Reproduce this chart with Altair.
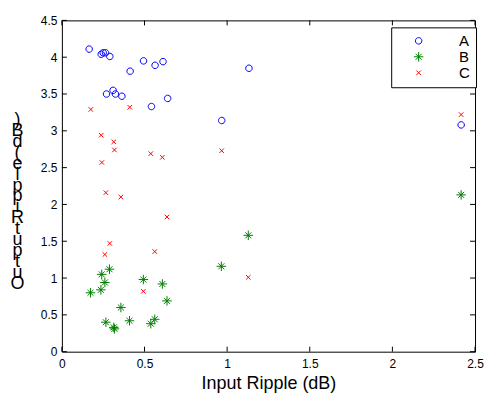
import altair as alt
import pandas as pd

# ---- data ----
series = ["A", "B", "C"]
colors = ["#0000ff", "#008000", "#ff0000"]

a_x = [0.165, 0.238, 0.250, 0.264, 0.290, 0.413, 0.494, 0.564, 0.612, 1.132,
       0.270, 0.310, 0.324, 0.363, 0.542, 0.640, 0.967, 2.416]
a_y = [4.11, 4.04, 4.06, 4.06, 4.01, 3.81, 3.95, 3.89, 3.94, 3.85,
       3.50, 3.55, 3.50, 3.47, 3.33, 3.44, 3.14, 3.08]

b_x = [1.128, 0.965, 0.288, 0.241, 0.260, 0.236, 0.173, 0.493, 0.608, 0.636,
       0.357, 0.409, 0.266, 0.314, 0.318, 0.538, 0.562, 2.416]
b_y = [1.58, 1.16, 1.12, 1.05, 0.94, 0.84, 0.80, 0.98, 0.92, 0.69,
       0.60, 0.42, 0.40, 0.33, 0.31, 0.38, 0.44, 2.13]

c_x = [0.175, 0.411, 0.238, 0.314, 0.318, 0.538, 0.608, 0.967, 0.242, 0.266,
       0.357, 0.636, 0.290, 0.260, 0.562, 0.493, 1.128, 2.416]
c_y = [3.29, 3.32, 2.94, 2.85, 2.74, 2.69, 2.64, 2.73, 2.57, 2.16,
       2.10, 1.83, 1.47, 1.32, 1.36, 0.82, 1.01, 3.22]

x_ticks = [0, 0.5, 1, 1.5, 2, 2.5]
y_ticks = [0, 0.5, 1, 1.5, 2, 2.5, 3, 3.5, 4, 4.5]

x_title = "Input Ripple (dB)"
y_title = "Output Ripple (dB)"

# ---- build tables ----
df = pd.concat([
    pd.DataFrame({"x": a_x, "y": a_y, "s": "A"}),
    pd.DataFrame({"x": b_x, "y": b_y, "s": "B"}),
    pd.DataFrame({"x": c_x, "y": c_y, "s": "C"}),
], ignore_index=True)
xt = pd.DataFrame({"v": x_ticks})
yt = pd.DataFrame({"v": y_ticks})

W, H = 414, 332
FONT = "Liberation Sans"
# symbol paths, all drawn at the same symbol size (unit box = 10 px)
circ = "M -0.65 0 A 0.65 0.65 0 1 0 0.65 0 A 0.65 0.65 0 1 0 -0.65 0 Z"
star = ("M -0.95 0 L 0.95 0 M 0 -0.95 L 0 0.95 "
        "M -0.6 -0.6 L 0.6 0.6 M -0.6 0.6 L 0.6 -0.6")
xmark = "M -0.45 -0.45 L 0.45 0.45 M -0.45 0.45 L 0.45 -0.45"
SYM = 100

xs = alt.Scale(domain=[0, 2.5], nice=False, zero=False)
ys = alt.Scale(domain=[0, 4.5], nice=False, zero=False)

# stacked upright characters, as in the reference's y label (spaces kept as nbsp)
y_title_lines = [("\u00a0" if ch == " " else ch) for ch in reversed(list(y_title))]

xaxis = alt.Axis(values=x_ticks, format="~g", title=x_title, labelPadding=7,
                 labelFlush=False,
                 titleFontSize=18, titleY=37, titleBaseline="alphabetic",
                 titleAlign="center")
yaxis = alt.Axis(values=y_ticks, format="~g", title=y_title_lines, labelPadding=5,
                 labelFlush=False,
                 titleAngle=0, titleFontSize=18, titleLineHeight=11,
                 titleX=-45, titleY=90, titleAlign="center", titleBaseline="top")

legend = alt.Legend(title=None, orient="none", legendX=330, legendY=7,
                    strokeColor="black", fillColor="white", padding=6,
                    labelFont=FONT, labelFontSize=15, labelColor="black",
                    symbolOffset=14, labelOffset=33, rowPadding=0, columns=1,
                    symbolSize=SYM, symbolStrokeWidth=1, cornerRadius=0)

points = alt.Chart(df).mark_point(filled=False, strokeWidth=1, opacity=1, size=SYM).encode(
    x=alt.X("x:Q", scale=xs, axis=xaxis),
    y=alt.Y("y:Q", scale=ys, axis=yaxis),
    color=alt.Color("s:N", scale=alt.Scale(domain=series, range=colors), legend=legend),
    shape=alt.Shape("s:N", scale=alt.Scale(domain=series, range=[circ, star, xmark]),
                    legend=legend),
)

bottom = alt.Chart(xt).mark_rule(color="black", y2Offset=-5).encode(
    x=alt.X("v:Q", scale=xs, axis=xaxis),
    y=alt.YDatum(datum=0, axis=yaxis), y2=alt.Y2Datum(datum=0))
top = alt.Chart(xt).mark_rule(color="black", y2Offset=5).encode(
    x=alt.X("v:Q", scale=xs, axis=xaxis),
    y=alt.YDatum(datum=4.5, axis=yaxis), y2=alt.Y2Datum(datum=4.5))
left = alt.Chart(yt).mark_rule(color="black", x2Offset=5).encode(
    y=alt.Y("v:Q", scale=ys, axis=yaxis),
    x=alt.XDatum(datum=0, axis=xaxis), x2=alt.X2Datum(datum=0))
right = alt.Chart(yt).mark_rule(color="black", x2Offset=-5).encode(
    y=alt.Y("v:Q", scale=ys, axis=yaxis),
    x=alt.XDatum(datum=2.5, axis=xaxis), x2=alt.X2Datum(datum=2.5))

chart = alt.layer(points, bottom, top, left, right).properties(
    width=W, height=H,
    autosize=alt.AutoSizeParams(type="none"),
    padding={"left": 54, "top": 12, "right": 9, "bottom": 42},
).configure_view(
    stroke="black", strokeWidth=1
).configure_axis(
    labelFont=FONT, labelFontSize=12, labelColor="black",
    titleFont=FONT, titleColor="black", titleFontWeight="normal",
    ticks=False, tickSize=0, domain=False, grid=False,
)

chart.save("out.html", embed_options={"renderer": "svg", "actions": False})
